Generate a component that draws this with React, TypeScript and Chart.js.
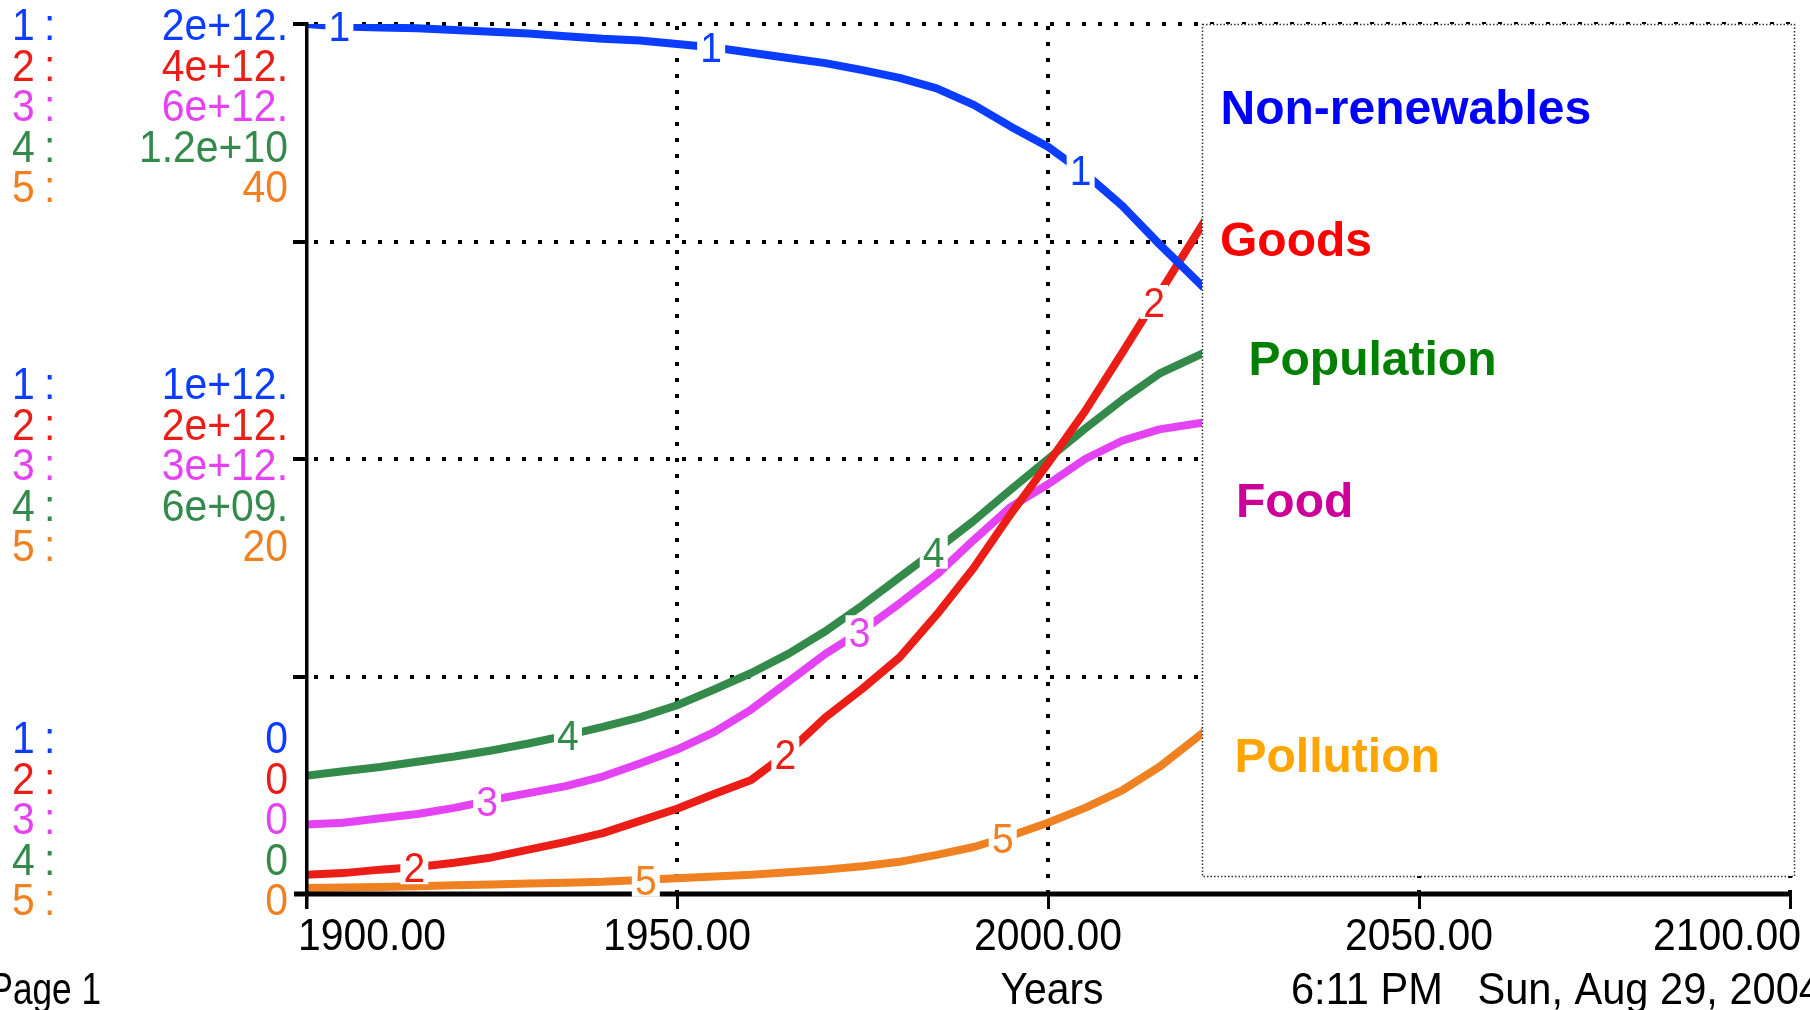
import React, { useEffect, useRef } from "react";
import { Chart, registerables } from "chart.js";

Chart.register(...registerables);

// ---------- data ----------
const years = [1900, 1905, 1910, 1915, 1920, 1925, 1930, 1935, 1940, 1945, 1950, 1955, 1960, 1965, 1970, 1975, 1980, 1985, 1990, 1995, 2000, 2005, 2010, 2015, 2021];

// 1: Non-renewables (scale 0 .. 2e12)
const nonRenewables = [2.0e12, 1.994e12, 1.992e12, 1.99e12, 1.986e12, 1.982e12, 1.978e12, 1.972e12, 1.966e12, 1.962e12, 1.954e12, 1.946e12, 1.934e12, 1.922e12, 1.91e12, 1.894e12, 1.876e12, 1.852e12, 1.814e12, 1.764e12, 1.718e12, 1.656e12, 1.582e12, 1.494e12, 1.394e12];
// 2: Goods (scale 0 .. 4e12)
const goods = [0.088e12, 0.096e12, 0.112e12, 0.124e12, 0.144e12, 0.168e12, 0.204e12, 0.24e12, 0.28e12, 0.336e12, 0.392e12, 0.46e12, 0.524e12, 0.652e12, 0.812e12, 0.944e12, 1.088e12, 1.284e12, 1.5e12, 1.748e12, 1.98e12, 2.22e12, 2.488e12, 2.76e12, 3.088e12];
const goodsTailYears = [2037, 2043];
const goodsTail = [4.0e12, 4.0e12];
// 3: Food (scale 0 .. 6e12)
const food = [0.48e12, 0.492e12, 0.522e12, 0.552e12, 0.594e12, 0.648e12, 0.696e12, 0.744e12, 0.81e12, 0.9e12, 0.996e12, 1.116e12, 1.272e12, 1.464e12, 1.656e12, 1.818e12, 2.004e12, 2.202e12, 2.442e12, 2.67e12, 2.826e12, 3.0e12, 3.126e12, 3.204e12, 3.252e12];
// 4: Population (scale 0 .. 1.2e10)
const population = [1.632e9, 1.692e9, 1.752e9, 1.824e9, 1.896e9, 1.98e9, 2.076e9, 2.184e9, 2.304e9, 2.436e9, 2.604e9, 2.82e9, 3.048e9, 3.312e9, 3.624e9, 3.984e9, 4.368e9, 4.752e9, 5.148e9, 5.58e9, 6.0e9, 6.42e9, 6.816e9, 7.176e9, 7.464e9];
// 5: Pollution (scale 0 .. 40)
const pollution = [0.28, 0.3, 0.32, 0.36, 0.4, 0.44, 0.48, 0.52, 0.56, 0.64, 0.72, 0.8, 0.88, 1.0, 1.12, 1.28, 1.48, 1.8, 2.16, 2.68, 3.28, 3.96, 4.76, 5.84, 7.44];
const pollutionTailYears = [2060, 2062];
const pollutionTail = [40, 40];

const seriesNumbers = ["1", "2", "3", "4", "5"];
const scaleMax = [2e12, 4e12, 6e12, 1.2e10, 40];
const topLabels = ["2e+12.", "4e+12.", "6e+12.", "1.2e+10", "40"];
const midLabels = ["1e+12.", "2e+12.", "3e+12.", "6e+09.", "20"];
const bottomLabels = ["0", "0", "0", "0", "0"];
const xTicks = [1900, 1950, 2000, 2050, 2100];
const legendNames = ["Non-renewables", "Goods", "Population", "Food", "Pollution"];
const xTitle = "Years";
const pageLabel = "Page 1";
const stampLabel = "6:11 PM   Sun, Aug 29, 2004";
// years where the series number is written on each line
const numberYears = [
  [1904.5, 1954.6, 2004.4],
  [1914.6, 1964.6, 2014.3],
  [1924.4, 1974.6],
  [1935.3, 1984.6],
  [1945.8, 1993.9],
];

// ---------- style ----------
const lineColors = ["#0A3DFF", "#EA1E17", "#E443F3", "#348A4B", "#F08122"];
const legendColors = ["#0000FF", "#FF0000", "#008000", "#CC0099", "#FFA500"];
const PIX = '"Liberation Sans", Arial, sans-serif';
const SX = 0.93;

function txt(ctx: CanvasRenderingContext2D, s: string, x: number, y: number, color: string, font: string, align: CanvasTextAlign = "left", sx = 1) {
  ctx.save();
  ctx.font = font;
  ctx.fillStyle = color;
  ctx.textBaseline = "alphabetic";
  ctx.textAlign = align;
  ctx.translate(x, y);
  ctx.scale(sx, 1);
  ctx.fillText(s, 0, 0);
  ctx.restore();
}

function valueAt(xs: number[], ys: number[], yr: number) {
  for (let i = 0; i < xs.length - 1; i++) {
    if (yr >= xs[i] && yr <= xs[i + 1]) {
      const t = (yr - xs[i]) / (xs[i + 1] - xs[i]);
      return ys[i] + t * (ys[i + 1] - ys[i]);
    }
  }
  return ys[ys.length - 1];
}

const seriesData = [nonRenewables, goods, food, population, pollution];

const stellaPlugin = {
  id: "stella",
  beforeDatasetsDraw(chart: any) {
    const ctx: CanvasRenderingContext2D = chart.ctx;
    const { left, right, top, bottom } = chart.chartArea;
    const x = chart.scales.x;
    const y = chart.scales.y1;
    ctx.save();
    ctx.strokeStyle = "#000";
    ctx.lineWidth = 4;
    ctx.setLineDash([4, 12]);
    for (const q of [0.25, 0.5, 0.75, 1]) {
      const py = Math.round(y.getPixelForValue(q * scaleMax[0]));
      ctx.beginPath();
      ctx.moveTo(left + 8, py);
      ctx.lineTo(right, py);
      ctx.stroke();
    }
    for (const t of xTicks.slice(1)) {
      const px = Math.round(x.getPixelForValue(t));
      ctx.beginPath();
      ctx.moveTo(px, top + 2);
      ctx.lineTo(px, bottom);
      ctx.stroke();
    }
    ctx.restore();
  },
  afterDatasetsDraw(chart: any) {
    const ctx: CanvasRenderingContext2D = chart.ctx;
    const { left, right, top, bottom } = chart.chartArea;
    const x = chart.scales.x;
    const y1 = chart.scales.y1;
    const W = chart.width;
    ctx.save();
    // axes
    ctx.fillStyle = "#000";
    ctx.fillRect(left - 1, top - 2, 3.5, bottom + 15 - (top - 2));
    for (const q of [0.25, 0.5, 0.75, 1]) {
      const py = Math.round(y1.getPixelForValue(q * scaleMax[0]));
      ctx.fillRect(left - 13, py - 2, 13, 4);
    }
    ctx.fillRect(left - 12, bottom - 2.5, right - left + 12, 5);
    for (const t of xTicks) {
      const px = Math.round(x.getPixelForValue(t));
      ctx.fillRect(px - 1, bottom, 3, 15);
    }

    // series numbers on the lines
    const xsFor = (i: number) => (i === 1 ? years.concat(goodsTailYears) : i === 4 ? years.concat(pollutionTailYears) : years);
    const ysFor = (i: number) => (i === 1 ? goods.concat(goodsTail) : i === 4 ? pollution.concat(pollutionTail) : seriesData[i]);
    numberYears.forEach((list, i) => {
      const ys = chart.scales["y" + (i + 1)];
      list.forEach((yr) => {
        const v = valueAt(xsFor(i), ysFor(i), yr);
        const px = x.getPixelForValue(yr);
        const py = ys.getPixelForValue(v);
        ctx.fillStyle = "#fff";
        ctx.fillRect(px - 14, py - 17, 28, 34);
        txt(ctx, seriesNumbers[i], px, py + 15, lineColors[i], `42px ${PIX}`, "center", SX);
      });
    });

    // legend box
    const bx = 1202, by = 24, bw = 592, bh = 852;
    ctx.fillStyle = "#fff";
    ctx.fillRect(bx, by, bw, bh);
    ctx.strokeStyle = "#333";
    ctx.lineWidth = 1.5;
    ctx.setLineDash([1.5, 2]);
    ctx.strokeRect(bx + 0.5, by + 0.5, bw, bh);
    ctx.setLineDash([]);
    const legendPos = [
      [1220.5, 124],
      [1220, 256],
      [1248.5, 375],
      [1236, 517],
      [1234.5, 772],
    ];
    legendNames.forEach((n, i) => {
      txt(ctx, n, legendPos[i][0], legendPos[i][1], legendColors[i], `bold 48px ${PIX}`);
    });

    // left scale labels
    const mid = y1.getPixelForValue(scaleMax[0] / 2);
    const groups: [string[], number][] = [
      [topLabels, top],
      [midLabels, mid - 76],
      [bottomLabels, bottom - 157],
    ];
    const f = `44px ${PIX}`;
    groups.forEach(([labels, start]) => {
      labels.forEach((lab, i) => {
        const base = start + i * 40.5 + 16;
        txt(ctx, seriesNumbers[i], 12, base, lineColors[i], f, "left", SX);
        txt(ctx, ":", 44, base, lineColors[i], f, "left", SX);
        txt(ctx, lab, 288, base, lineColors[i], f, "right", SX);
      });
    });

    // x tick labels
    ctx.font = f;
    xTicks.forEach((t) => {
      const s = t.toFixed(2);
      const w = ctx.measureText(s).width * SX;
      const px = x.getPixelForValue(t);
      let lx = px - w / 2;
      lx = Math.max(lx, left - 8);
      lx = Math.min(lx, W - 9 - w);
      txt(ctx, s, lx, 950, "#000", f, "left", SX);
    });

    // footer
    txt(ctx, pageLabel, 101, 1004, "#000", f, "right", 0.8);
    txt(ctx, xTitle, x.getPixelForValue(2000) + 4, 1004, "#000", f, "center", SX);
    txt(ctx, stampLabel, 1291, 1004, "#000", f, "left", 0.945);
    ctx.restore();
  },
};

export default function App() {
  const ref = useRef<HTMLCanvasElement>(null);
  useEffect(() => {
    document.body.style.margin = "0";
    const canvas = ref.current!;
    const mk = (xs: number[], ys: number[]) => xs.map((xv, i) => ({ x: xv, y: ys[i] }));
    const common = {
      borderWidth: 8,
      pointRadius: 0,
      tension: 0,
      fill: false,
      borderCapStyle: "butt" as const,
      borderJoinStyle: "round" as const,
    };
    const yScale = (max: number) => ({ type: "linear" as const, min: 0, max, display: false });
    const chart = new Chart(canvas, {
      type: "line",
      data: {
        datasets: [
          { ...common, label: "Non-renewables", data: mk(years, nonRenewables), yAxisID: "y1", borderColor: lineColors[0] },
          { ...common, label: "Goods", data: mk(years.concat(goodsTailYears), goods.concat(goodsTail)), yAxisID: "y2", borderColor: lineColors[1] },
          { ...common, label: "Food", data: mk(years, food), yAxisID: "y3", borderColor: lineColors[2] },
          { ...common, label: "Population", data: mk(years, population), yAxisID: "y4", borderColor: lineColors[3] },
          { ...common, label: "Pollution", data: mk(years.concat(pollutionTailYears), pollution.concat(pollutionTail)), yAxisID: "y5", borderColor: lineColors[4] },
        ],
      },
      options: {
        responsive: false,
        maintainAspectRatio: false,
        devicePixelRatio: 1,
        animation: false,
        events: [],
        layout: { padding: { left: 306, right: 20, top: 24, bottom: 116 } },
        plugins: { legend: { display: false }, tooltip: { enabled: false }, title: { display: false } },
        scales: {
          x: { type: "linear", min: 1900, max: 2100, display: false },
          y1: yScale(scaleMax[0]),
          y2: yScale(scaleMax[1]),
          y3: yScale(scaleMax[2]),
          y4: yScale(scaleMax[3]),
          y5: yScale(scaleMax[4]),
        },
      },
      plugins: [stellaPlugin],
    });
    return () => chart.destroy();
  }, []);
  return (
    <div style={{ width: 1810, height: 1010, position: "relative", background: "#fff" }}>
      <canvas ref={ref} width={1810} height={1010} style={{ display: "block", width: 1810, height: 1010 }} />
    </div>
  );
}
